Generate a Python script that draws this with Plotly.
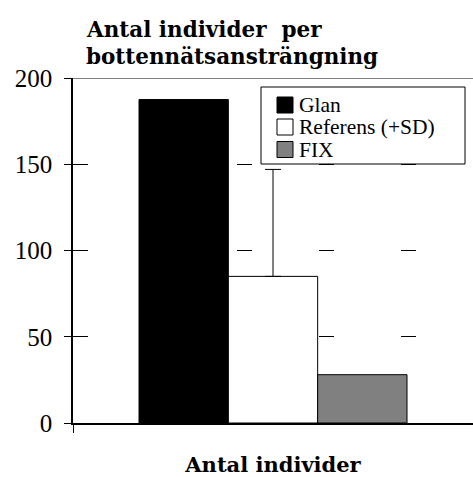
import plotly.graph_objects as go

# ---- data ----
categories = ["Antal individer"]
series_names = ["Glan", "Referens (+SD)", "FIX"]
glan_values = [187.5]
referens_values = [85.0]
referens_sd = [62.0]
fix_values = [28.0]
y_ticks = [0, 50, 100, 150, 200]

colors = ["#000000", "#ffffff", "#808080"]
FONT = "Liberation Serif"
BOLD_FONT = "DejaVu Serif"

W, H = 473, 477
ML, MR, MT, MB = 73, 0, 78, 54
PW, PH = W - ML - MR, H - MT - MB

fig = go.Figure()
fig.add_trace(go.Bar(x=categories, y=glan_values, name=series_names[0],
                     marker=dict(color=colors[0], line=dict(color="black", width=1))))
fig.add_trace(go.Bar(x=categories, y=referens_values, name=series_names[1],
                     marker=dict(color=colors[1], line=dict(color="black", width=1)),
                     error_y=dict(type="data", symmetric=False, array=referens_sd,
                                  arrayminus=[0], color="black", thickness=1, width=8)))
fig.add_trace(go.Bar(x=categories, y=fix_values, name=series_names[2],
                     marker=dict(color=colors[2], line=dict(color="black", width=1))))


def px_x(p):
    return (p - ML) / PW


def px_y(p):
    return (H - MB - p) / PH


shapes = [
    dict(type="line", xref="x domain", yref="y", x0=0, x1=1, y0=200, y1=200,
         line=dict(color="black", width=1.2)),
    dict(type="rect", xref="paper", yref="paper", x0=px_x(261), x1=px_x(465),
         y0=px_y(164), y1=px_y(87), fillcolor="white", line=dict(color="black", width=1)),
]
annotations = []
row_centers = [105, 127, 149.5]
for name, col, cy in zip(series_names, colors, row_centers):
    shapes.append(dict(type="rect", xref="paper", yref="paper",
                       x0=px_x(277), x1=px_x(293), y0=px_y(cy + 8), y1=px_y(cy - 8),
                       fillcolor=col, line=dict(color="black", width=1)))
    annotations.append(dict(text=name, xref="paper", yref="paper", x=px_x(297), y=px_y(cy),
                            xanchor="left", yanchor="middle", showarrow=False,
                            font=dict(family=FONT, size=21.5, color="black")))

# title (two lines)
annotations.append(dict(text="Antal individer  per", xref="paper", yref="paper",
                        x=px_x(84), y=px_y(29), xanchor="left", yanchor="middle",
                        showarrow=False,
                        font=dict(family=BOLD_FONT, size=21.5, color="black", weight=700)))
annotations.append(dict(text="bottennätsansträngning", xref="paper", yref="paper",
                        x=px_x(84), y=px_y(57), xanchor="left", yanchor="middle",
                        showarrow=False,
                        font=dict(family=BOLD_FONT, size=21.5, color="black", weight=700)))

fig.update_layout(
    width=W, height=H,
    margin=dict(l=ML, r=MR, t=MT, b=MB, pad=0),
    paper_bgcolor="white", plot_bgcolor="white",
    barmode="group", bargap=0.33, bargroupgap=0,
    showlegend=False,
    shapes=shapes,
    annotations=annotations,
    font=dict(family=FONT, color="black"),
)

fig.update_yaxes(range=[0, 200], tickvals=y_ticks, ticks="outside", ticklen=7,
                 tickcolor="black", tickwidth=1.2, automargin=False,
                 showline=True, linecolor="black", linewidth=1.5,
                 showgrid=True, gridcolor="black", gridwidth=1, griddash="15px,67px",
                 zeroline=False, ticklabelstandoff=7,
                 tickfont=dict(family=FONT, size=25, color="black"))
fig.update_xaxes(showline=True, linecolor="black", linewidth=1.5, automargin=False,
                 ticks="outside", tickson="boundaries", ticklen=8, tickcolor="black",
                 tickvals=categories, ticktext=categories,
                 ticklabelstandoff=22,
                 tickfont=dict(family=BOLD_FONT, size=21, color="black", weight=700))

fig.write_html("out.html", config={"displayModeBar": False},
               post_script="document.body.style.margin='0';document.body.style.overflow='hidden';")
